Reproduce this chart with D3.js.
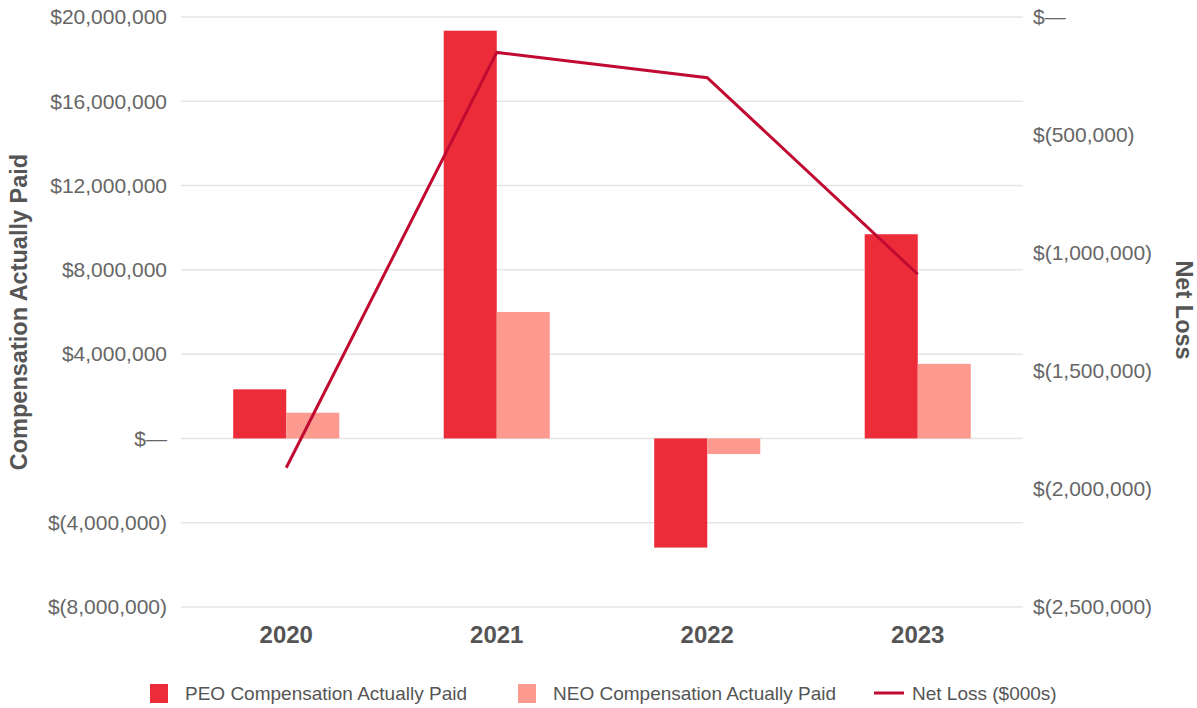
<!DOCTYPE html>
<html>
<head>
<meta charset="utf-8">
<script src="https://cdn.jsdelivr.net/npm/d3@7"></script>
<style>
  html, body { margin: 0; padding: 0; background: #fff; }
  svg { display: block; font-family: "Liberation Sans", Arial, sans-serif; }
</style>
</head>
<body>
<svg id="chart" width="1197" height="708"></svg>
<script>
// Fiscal years on the x axis
const years = ["2020", "2021", "2022", "2023"];
// Compensation actually paid (left axis, dollars)
const peoComp = [2330000, 19350000, -5180000, 9690000];
const neoComp = [1220000, 6000000, -740000, 3540000];
// Net loss (right axis)
const netLoss = [-1910000, -150000, -257000, -1090000];
// Tick values for each axis
const leftTicks = [-8000000, -4000000, 0, 4000000, 8000000, 12000000, 16000000, 20000000];
const rightTicks = [-2500000, -2000000, -1500000, -1000000, -500000, 0];

const colors = { peo: "#EC2D39", neo: "#FD9A8F", line: "#C10A31" };

const svg = d3.select("#chart");
const plot = { left: 181, right: 1023, top: 17, bottom: 607 };

const x = d3.scaleBand().domain(years).range([plot.left, plot.right]).paddingInner(0).paddingOuter(0);
const yL = d3.scaleLinear().domain([-8000000, 20000000]).range([plot.bottom, plot.top]);
const yR = d3.scaleLinear().domain([-2500000, 0]).range([plot.bottom, plot.top]);

const money = v => v === 0 ? "$\u2014" : (v < 0 ? "$(" + d3.format(",")(-v) + ")" : "$" + d3.format(",")(v));

// Horizontal gridlines
svg.append("g").selectAll("line").data(leftTicks).join("line")
  .attr("x1", plot.left).attr("x2", plot.right)
  .attr("y1", d => yL(d)).attr("y2", d => yL(d))
  .attr("stroke", "#e5e5e5").attr("stroke-width", 1.5);

// Left axis
const leftAxis = svg.append("g").attr("transform", `translate(${plot.left - 14},0)`)
  .call(d3.axisLeft(yL).tickValues(leftTicks).tickFormat(money).tickSize(0).tickPadding(0));
leftAxis.select(".domain").remove();
leftAxis.selectAll("text").attr("fill", "#666").attr("font-size", 21).style("font-family", "inherit");

// Right axis
const rightAxis = svg.append("g").attr("transform", `translate(${plot.right + 10},0)`)
  .call(d3.axisRight(yR).tickValues(rightTicks).tickFormat(money).tickSize(0).tickPadding(0));
rightAxis.select(".domain").remove();
rightAxis.selectAll("text").attr("fill", "#666").attr("font-size", 21).style("font-family", "inherit");

// Year labels
const xAxis = svg.append("g").attr("transform", `translate(0,${plot.bottom + 8})`)
  .call(d3.axisBottom(x).tickSize(0).tickPadding(11));
xAxis.select(".domain").remove();
xAxis.selectAll("text").attr("fill", "#555").attr("font-size", 24).attr("font-weight", "bold").style("font-family", "inherit");

// Axis titles
svg.append("text")
  .attr("transform", "translate(27,312) rotate(-90)")
  .attr("text-anchor", "middle").attr("fill", "#555")
  .attr("font-size", 23.5).attr("font-weight", "bold")
  .text("Compensation Actually Paid");
svg.append("text")
  .attr("transform", "translate(1176,310) rotate(90)")
  .attr("text-anchor", "middle").attr("fill", "#555")
  .attr("font-size", 23.5).attr("font-weight", "bold")
  .text("Net Loss");

// Grouped bars
const barW = x.bandwidth() * 0.252;
const bars = svg.append("g");
years.forEach((yr, i) => {
  const cx = x(yr) + x.bandwidth() / 2;
  [[peoComp[i], colors.peo, cx - barW], [neoComp[i], colors.neo, cx]].forEach(([v, c, bx]) => {
    bars.append("rect")
      .attr("x", bx).attr("width", barW)
      .attr("y", Math.min(yL(v), yL(0)))
      .attr("height", Math.abs(yL(v) - yL(0)))
      .attr("fill", c);
  });
});

// Net loss line
const line = d3.line()
  .x((d, i) => x(years[i]) + x.bandwidth() / 2)
  .y(d => yR(d));
svg.append("path").datum(netLoss)
  .attr("d", line)
  .attr("fill", "none").attr("stroke", colors.line).attr("stroke-width", 3);

// Legend
const legend = svg.append("g").attr("font-size", 19).attr("fill", "#555");
const legY = 693;
legend.append("rect").attr("x", 150).attr("y", legY - 9).attr("width", 18).attr("height", 19).attr("fill", colors.peo);
legend.append("text").attr("x", 185).attr("y", legY).attr("dy", "0.35em").text("PEO Compensation Actually Paid");
legend.append("rect").attr("x", 518).attr("y", legY - 9).attr("width", 18).attr("height", 19).attr("fill", colors.neo);
legend.append("text").attr("x", 553).attr("y", legY).attr("dy", "0.35em").text("NEO Compensation Actually Paid");
legend.append("line").attr("x1", 874).attr("x2", 904).attr("y1", legY).attr("y2", legY)
  .attr("stroke", colors.line).attr("stroke-width", 3);
legend.append("text").attr("x", 912).attr("y", legY).attr("dy", "0.35em").text("Net Loss ($000s)");
</script>
</body>
</html>
